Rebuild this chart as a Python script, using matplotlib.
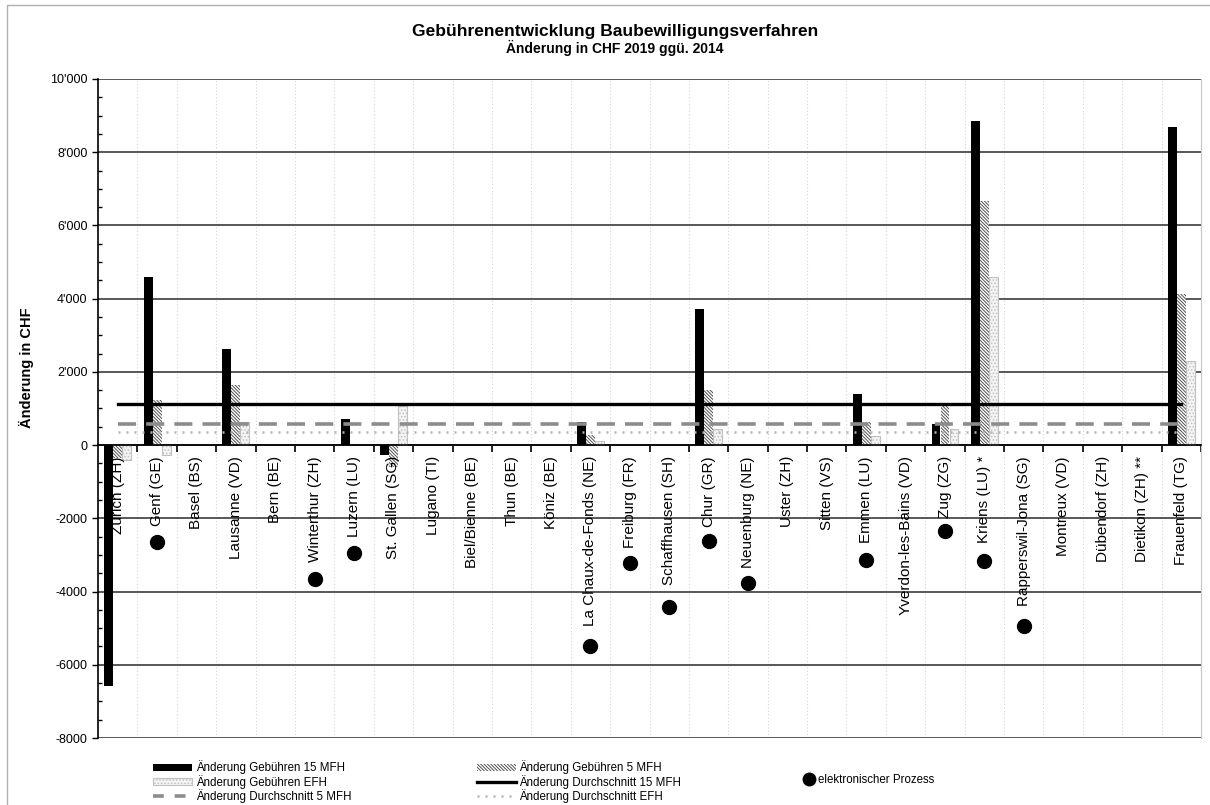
import numpy as np
import matplotlib.pyplot as plt
from matplotlib.patches import Patch, Rectangle
from matplotlib.lines import Line2D

plt.rcParams['font.family'] = ['Liberation Sans', 'DejaVu Sans']
plt.rcParams['hatch.linewidth'] = 0.7

# Staedte (x-Achse)
staedte = ["Zürich (ZH)", "Genf (GE)", "Basel (BS)", "Lausanne (VD)", "Bern (BE)",
           "Winterthur (ZH)", "Luzern (LU)", "St. Gallen (SG)", "Lugano (TI)",
           "Biel/Bienne (BE)", "Thun (BE)", "Köniz (BE)", "La Chaux-de-Fonds (NE)",
           "Freiburg (FR)", "Schaffhausen (SH)", "Chur (GR)", "Neuenburg (NE)",
           "Uster (ZH)", "Sitten (VS)", "Emmen (LU)", "Yverdon-les-Bains (VD)",
           "Zug (ZG)", "Kriens (LU) *", "Rapperswil-Jona (SG)", "Montreux (VD)",
           "Dübendorf (ZH)", "Dietikon (ZH) **", "Frauenfeld (TG)"]

nan = np.nan
# Aenderung Gebuehren in CHF
mfh15 = [-6590, 4600, nan, 2620, nan, nan, 700, -280, nan, nan, nan, nan, 640,
         nan, nan, 3730, nan, nan, nan, 1390, nan, 580, 8850, nan, nan, nan, nan, 8690]
mfh5 = [-350, 1230, nan, 1650, nan, nan, nan, -600, nan, nan, nan, nan, 270,
        nan, nan, 1500, nan, nan, nan, 630, nan, 1070, 6680, nan, nan, nan, nan, 4140]
efh = [-400, -280, nan, 620, nan, nan, nan, 1070, nan, nan, nan, nan, 120,
       nan, nan, 450, nan, nan, nan, 250, nan, 440, 4590, nan, nan, nan, nan, 2290]

# Durchschnitte
avg_mfh15 = 1130
avg_mfh5 = 570
avg_efh = 360

# elektronischer Prozess (Position der Punkte)
e_prozess = [nan, -2650, nan, nan, nan, -3660, -2940, nan, nan, nan, nan, nan, -5480,
             -3230, -4410, -2610, -3760, nan, nan, -3140, nan, -2350, -3170, -4930,
             nan, nan, nan, nan]

y_ticks = [-8000, -6000, -4000, -2000, 0, 2000, 4000, 6000, 8000, 10000]
y_ticklabels = ["-8000", "-6000", "-4000", "-2000", "0", "2'000", "4'000", "6'000", "8'000", "10'000"]

x = np.arange(len(staedte))
n = len(staedte)

fig = plt.figure(figsize=(12.1, 8.05), dpi=100)
ax = fig.add_axes([0.081, 0.0832, 0.9116, 0.8187])

hatch5 = '\\' * 10
bw = 0.225
off = 0.228
ax.bar(x - off, mfh15, bw, color='black', zorder=3)
ax.bar(x, mfh5, bw, facecolor='white', edgecolor='#505050', hatch=hatch5, linewidth=0, zorder=3)
ax.bar(x + off, efh, bw, facecolor='#f4f4f4', edgecolor='#c0c0c0', hatch='.....', linewidth=0.8, zorder=3)

# Durchschnittslinien
ax.plot([x[0], x[-1]], [avg_mfh15, avg_mfh15], color='black', lw=2.4, zorder=4)
ax.plot([x[0], x[-1]], [avg_mfh5, avg_mfh5], color='#8c8c8c', lw=2.6, dashes=(5, 2.8), zorder=4)
ax.plot([x[0], x[-1]], [avg_efh, avg_efh], color='#b4b4b4', lw=1.8, dashes=(0.8, 2.4), zorder=4)

ax.plot(x, e_prozess, 'o', color='black', markersize=10, linestyle='none', zorder=5)

for i, s in enumerate(staedte):
    ax.text(x[i], -300, s, rotation=90, ha='center', va='top', fontsize=11, zorder=6)

ax.set_xlim(-0.5, n - 0.5)
ax.set_ylim(-8000, 10000)
ax.set_yticks(y_ticks)
ax.set_yticklabels(y_ticklabels, fontsize=9)
ax.set_yticks(np.arange(-8000, 10001, 500), minor=True)
ax.tick_params(axis='y', which='major', direction='out', length=4, width=1)
ax.tick_params(axis='y', which='minor', direction='in', length=3, width=1)

ax.set_xticks(np.arange(0.5, n, 1))
ax.set_xticklabels([])
ax.tick_params(axis='x', which='major', direction='out', length=5, width=1.2, color='black')
ax.grid(axis='x', color='#d4d4d4', linestyle=(0, (1, 2)), lw=0.8, zorder=0)
ax.grid(axis='y', color='#4a4a4a', lw=1.3, zorder=1)

ax.spines['bottom'].set_position(('data', 0))
ax.spines['bottom'].set_linewidth(1.2)
ax.spines['bottom'].set_zorder(4.5)
ax.spines['left'].set_linewidth(1.2)
ax.spines['top'].set_visible(False)
ax.spines['right'].set_color('#c8c8c8')

fig.text(0.508, 0.961, "Gebührenentwicklung Baubewilligungsverfahren",
         ha='center', va='center', fontsize=12.5, fontweight='bold')
fig.text(0.508, 0.94, "Änderung in CHF 2019 ggü. 2014",
         ha='center', va='center', fontsize=10, fontweight='bold')
fig.text(0.022, 0.543, "Änderung in CHF", rotation=90, ha='center', va='center',
         fontsize=10.5, fontweight='bold')

# Rahmen
fig.patches.append(Rectangle((0.006, -0.01), 1.0, 1.004, transform=fig.transFigure,
                             fill=False, edgecolor='#b0b0b0', lw=1))

# Legende
h15 = Patch(facecolor='black')
h5 = Patch(facecolor='white', edgecolor='#505050', hatch=hatch5, linewidth=0)
hefh = Patch(facecolor='#f4f4f4', edgecolor='#c0c0c0', hatch='.....', linewidth=0.8)
l15 = Line2D([], [], color='black', lw=2.4)
l5 = Line2D([], [], color='#8c8c8c', lw=2.6, dashes=(3, 3))
lefh = Line2D([], [], color='#b4b4b4', lw=1.8, dashes=(0.8, 2.4))
ldot = Line2D([], [], marker='o', color='black', markersize=9, linestyle='none')

leg_kw = dict(frameon=False, fontsize=8.3, borderpad=0, borderaxespad=0,
              handletextpad=0.3, labelspacing=0.04, handleheight=0.6)
fig.legend([h15, hefh, l5],
           ["Änderung Gebühren 15 MFH", "Änderung Gebühren EFH", "Änderung Durchschnitt 5 MFH"],
           loc='upper left', bbox_to_anchor=(0.1264, 0.0555), handlelength=3.4, **leg_kw)
fig.legend([h5, l15, lefh],
           ["Änderung Gebühren 5 MFH", "Änderung Durchschnitt 15 MFH", "Änderung Durchschnitt EFH"],
           loc='upper left', bbox_to_anchor=(0.394, 0.0555), handlelength=3.4, **leg_kw)
fig.legend([ldot], ["elektronischer Prozess"],
           loc='upper left', bbox_to_anchor=(0.664, 0.0385), handlelength=1.0, **leg_kw)

fig.savefig("out.png", dpi=100)
